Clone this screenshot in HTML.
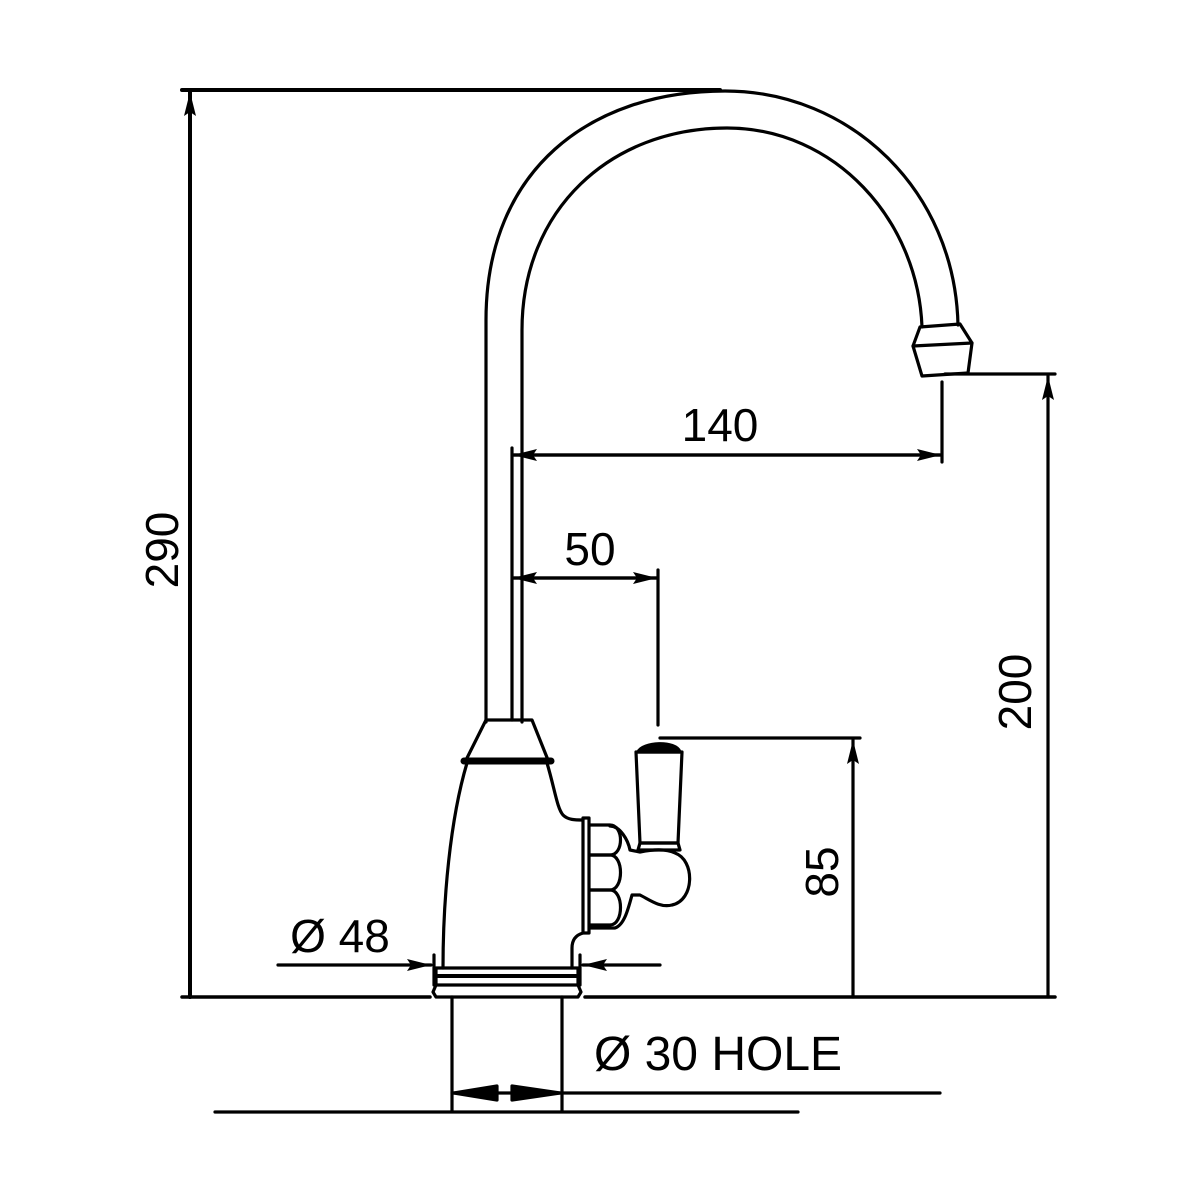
<!DOCTYPE html>
<html><head><style>html,body{margin:0;padding:0;background:#fff}svg{display:block}</style></head>
<body>
<svg width="1200" height="1200" viewBox="0 0 1200 1200" xmlns="http://www.w3.org/2000/svg">
<defs>
<marker id="a" markerWidth="24" markerHeight="12" refX="24" refY="6" orient="auto" markerUnits="userSpaceOnUse" viewBox="0 0 24 12"><path d="M0,0 L24,6 L0,12 L4,6 Z" fill="#000"/></marker>
</defs>
<g fill="none" stroke="#000" stroke-width="3.2" stroke-linejoin="round" stroke-linecap="round">
<line x1="182" y1="90" x2="720" y2="90" stroke-width="4"/>
<line x1="190" y1="997" x2="190" y2="92" marker-end="url(#a)" stroke-width="4"/>
<line x1="182" y1="997" x2="430" y2="997" stroke-width="3.5"/>
<line x1="585" y1="997" x2="1055" y2="997" stroke-width="3.5"/>
<path d="M486,722 L486,320 C486,170 590,91 725,91 C850,91 955,190 958,325"/>
<path d="M522,722 L522,330 C522,210 610,128 727,128 C835,128 918,220 922,327"/>
<path d="M920,327 L960,324 L972,343 L968,373 L922,376 L913,346 Z"/>
<line x1="913" y1="346" x2="972" y2="343"/>
<line x1="512" y1="448" x2="512" y2="720"/>
<line x1="514" y1="455" x2="941" y2="455" marker-end="url(#a)"/>
<line x1="940" y1="455" x2="513" y2="455" marker-end="url(#a)"/>
<line x1="942" y1="382" x2="942" y2="462"/>
<line x1="514" y1="578" x2="657" y2="578" marker-end="url(#a)"/>
<line x1="656" y1="578" x2="513" y2="578" marker-end="url(#a)"/>
<line x1="658" y1="570" x2="658" y2="725"/>
<line x1="945" y1="374" x2="1055" y2="374"/>
<line x1="1048" y1="997" x2="1048" y2="376" marker-end="url(#a)"/>
<line x1="660" y1="738" x2="860" y2="738"/>
<line x1="853" y1="997" x2="853" y2="740" marker-end="url(#a)"/>
<path d="M486,720 L532,720 L548,760 L466,760 Z"/>
<line x1="464" y1="761" x2="551" y2="761" stroke-width="7"/>
<path d="M467,763 C450,820 443,900 443,968"/>
<path d="M547,763 C555,790 557,808 563,815 C568,820 575,820 583,820"/>
<path d="M583,933 C576,935 572,940 572,948 L572,968"/>
<rect x="583" y="818" width="6" height="115"/>
<path d="M590,825 L610,825 C624,825 624,855 610,855 L590,855"/>
<path d="M590,855 L610,855 C624,855 624,890 610,890 L590,890"/>
<path d="M590,890 L610,890 C624,890 624,925 610,925 L590,925"/>
<path d="M610,826 C620,826 628,840 630,850 L640,852 C650,850 665,848 675,853 C695,860 695,900 672,905 C660,908 650,900 640,895 L632,895 C628,910 624,925 615,928 L590,928"/>
<path d="M636,752 L682,752 L678,843 L640,843 Z"/>
<path d="M640,843 L678,843 L680,850 L638,850 Z"/>
<path d="M638,752 C642,742 676,740 680,752 Z" fill="#000"/>
<path d="M436,968 L578,968 L578,985 L436,985 Z"/>
<line x1="438" y1="976" x2="576" y2="976" stroke-width="4"/>
<path d="M436,985 L433,992 L436,997 L578,997 L581,992 L578,985"/>
<line x1="434" y1="955" x2="434" y2="985"/>
<line x1="580" y1="955" x2="580" y2="985"/>
<line x1="278" y1="965" x2="431" y2="965" marker-end="url(#a)"/>
<line x1="660" y1="965" x2="583" y2="965" marker-end="url(#a)"/>
<line x1="452" y1="997" x2="452" y2="1111"/>
<line x1="562" y1="997" x2="562" y2="1111"/>
<line x1="452" y1="1093" x2="940" y2="1093"/>
<path d="M454,1093 L497,1086 L497,1100 Z" fill="#000"/>
<path d="M560,1093 L512,1086 L512,1100 Z" fill="#000"/>
<line x1="215" y1="1112" x2="798" y2="1112"/>
</g>
<g font-family="Liberation Sans, sans-serif" font-size="46" fill="#000">
<text x="720" y="441" text-anchor="middle">140</text>
<text x="590" y="565" text-anchor="middle">50</text>
<text x="340" y="952" text-anchor="middle">Ø 48</text>
<text x="718" y="1070" text-anchor="middle" font-size="48">Ø 30 HOLE</text>
<text transform="translate(178,550) rotate(-90)" text-anchor="middle">290</text>
<text transform="translate(1031,692) rotate(-90)" text-anchor="middle">200</text>
<text transform="translate(838,872) rotate(-90)" text-anchor="middle">85</text>
</g>
</svg>
</body></html>
